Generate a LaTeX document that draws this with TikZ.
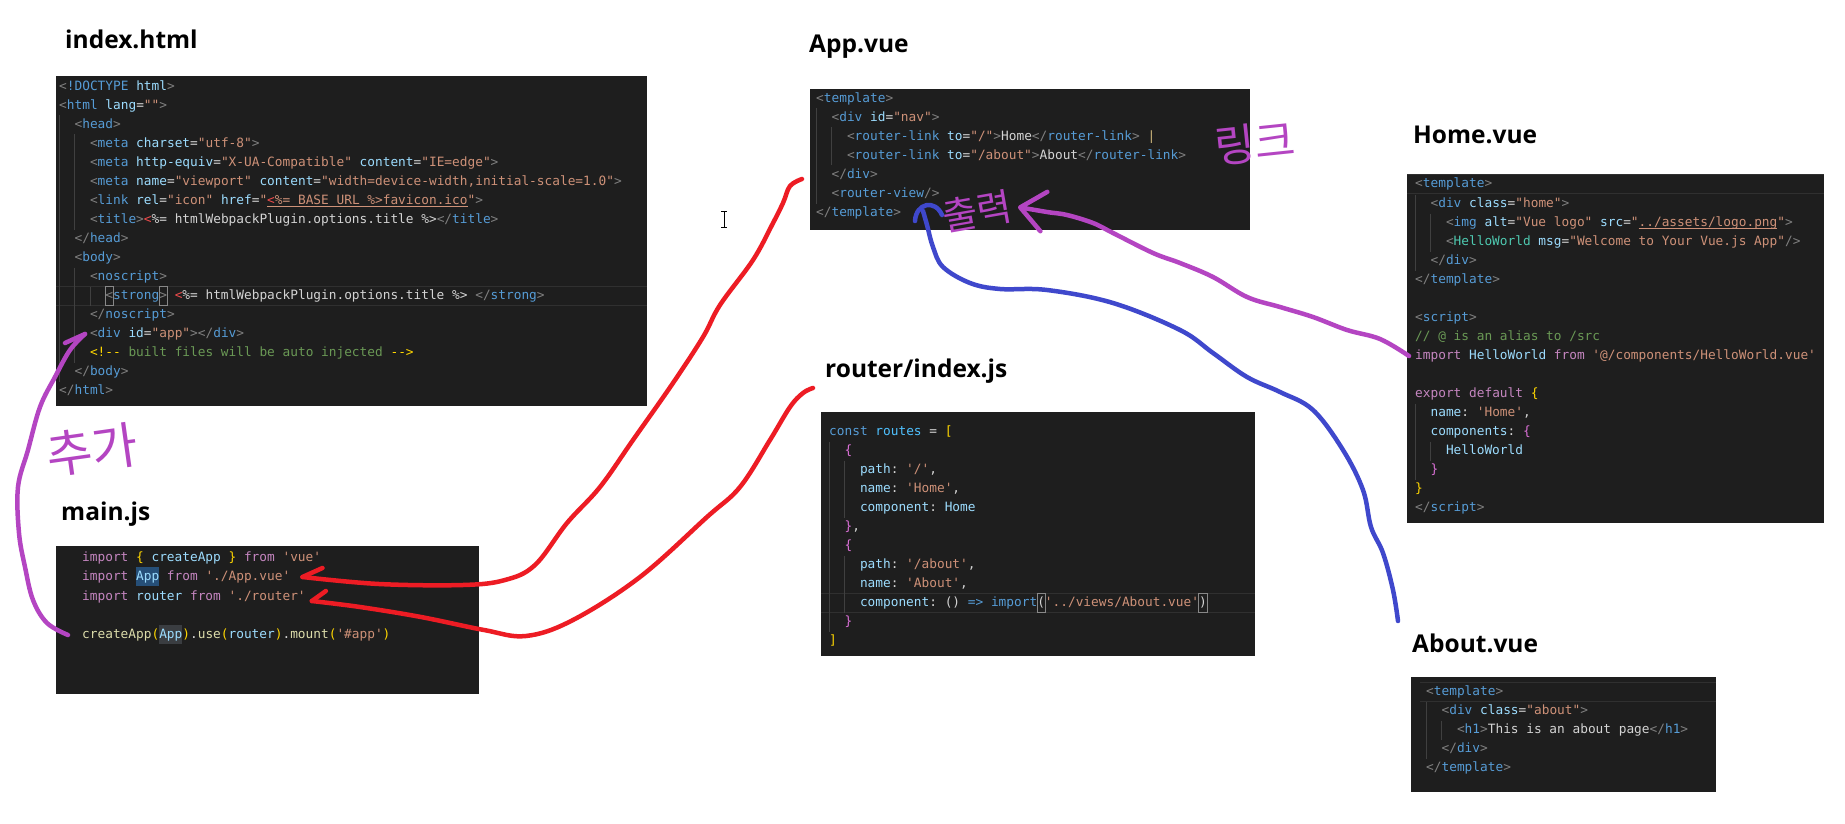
\documentclass[tikz,border=0pt]{standalone}
\usepackage{fontspec}
\setmainfont{Noto Sans}
\setmonofont{DejaVu Sans Mono}
\newfontfamily\headfont{Open Sans}
\newfontfamily\hanfont{Noto Sans CJK KR}
\usepackage{tikz}
\usetikzlibrary{calc,positioning,arrows.meta}

\definecolor{bgc}{HTML}{1E1E1E}
\definecolor{tagc}{HTML}{569CD6}
\definecolor{angc}{HTML}{808080}
\definecolor{attc}{HTML}{9CDCFE}
\definecolor{strc}{HTML}{CE9178}
\definecolor{txtc}{HTML}{D4D4D4}
\definecolor{cmtc}{HTML}{6A9955}
\definecolor{kwc}{HTML}{C586C0}
\definecolor{fnc}{HTML}{DCDCAA}
\definecolor{cmpc}{HTML}{4EC9B0}
\definecolor{goldc}{HTML}{FFD700}
\definecolor{orchc}{HTML}{DA70D6}
\definecolor{constc}{HTML}{4FC1FF}
\definecolor{errc}{HTML}{F14C4C}
\definecolor{pipec}{HTML}{CCB47A}
\definecolor{selc}{HTML}{264F78}
\definecolor{hlc}{HTML}{3A3D41}
\definecolor{matchc}{HTML}{888888}
\definecolor{guidec}{HTML}{404040}
\definecolor{curc}{HTML}{303030}
\definecolor{redpen}{HTML}{ED1C24}
\definecolor{bluepen}{HTML}{3F48CC}
\definecolor{purplepen}{HTML}{B445C2}

% code colouring
\newsavebox{\ulbox}
\newcommand{\ctgo}[1]{\textcolor{angc}{<}\textcolor{tagc}{#1}}
\newcommand{\ctgc}[1]{\textcolor{angc}{</}\textcolor{tagc}{#1}\textcolor{angc}{>}}
\newcommand{\ctge}{\textcolor{angc}{>}}
\newcommand{\ctgs}{\textcolor{angc}{/>}}
\newcommand{\catr}[1]{\textcolor{attc}{#1}=}
\newcommand{\cstr}[1]{\textcolor{strc}{#1}}
\newcommand{\ckw}[1]{\textcolor{kwc}{#1}}
\newcommand{\cvar}[1]{\textcolor{attc}{#1}}
\newcommand{\ccmt}[1]{\textcolor{cmtc}{#1}}
\newcommand{\cfn}[1]{\textcolor{fnc}{#1}}
\newcommand{\ccmp}[1]{\textcolor{cmpc}{#1}}
\newcommand{\cgold}[1]{\textcolor{goldc}{#1}}
\newcommand{\corch}[1]{\textcolor{orchc}{#1}}
\newcommand{\cblu}[1]{\textcolor{tagc}{#1}}
\newcommand{\cconst}[1]{\textcolor{constc}{#1}}
\newcommand{\cerr}[1]{\textcolor{errc}{#1}}
\newcommand{\csel}[2]{{\fboxsep=0pt\colorbox{#1}{\strut#2}}}
\newcommand{\cmatch}[1]{{\fboxsep=0pt\fboxrule=0.6pt\kern-0.6pt\fcolorbox{matchc}{bgc}{\strut#1}\kern-0.6pt}}
\newcommand{\culine}[1]{\sbox{\ulbox}{#1}\rlap{\textcolor{strc}{\rule[-2.5pt]{\wd\ulbox}{0.7pt}}}\usebox{\ulbox}}

\tikzset{
  codeline/.style={anchor=west,inner sep=0pt,text=txtc,text height=9.5pt,text depth=2.5pt,
    font=\ttfamily\fontsize{12.8}{19}\selectfont},
  filename/.style={anchor=base west,inner sep=0pt,font=\headfont\bfseries\fontsize{24.5}{30}\selectfont},
  panel/.style={fill=bgc},
  guide/.style={draw=guidec,line width=1pt},
  curline/.style={draw=curc,line width=1pt},
  pen/.style={line width=4.5pt,line cap=round,line join=round},
  hand/.style={text=purplepen,inner sep=0pt,font=\hanfont\fontsize{44}{44}\selectfont},
}

\begin{document}
\begin{tikzpicture}[x=1pt,y=-1pt]
% \draw[gray!30,step=50] (0,0) grid (1845,824); %help grid
\fill[white] (0,0) rectangle (1845,824);
\useasboundingbox (0,0) rectangle (1845,824);

%% index.html
\node[filename] (tindex) at (65,49) {index.html};
\fill[panel] (56,76) rectangle (647,406);
\draw[curline] (56,286.5) -- (647,286.5) (56,305.5) -- (647,305.5);
\draw[guide] (59.5,115.5) -- (59.5,381.5);
\draw[guide] (74.9,134.5) -- (74.9,229.5) (74.9,267.5) -- (74.9,362.5);
\draw[guide] (90.3,286.5) -- (90.3,305.5);
\node[codeline] (i1) at (59,87) {\ctgo{!DOCTYPE} \cvar{html}\ctge{}};
\node[codeline] (i2) at (59,106) {\ctgo{html} \catr{lang}\cstr{""}\ctge{}};
\node[codeline] (i3) at (74.4,125) {\ctgo{head}\ctge{}};
\node[codeline] (i4) at (89.8,144) {\ctgo{meta} \catr{charset}\cstr{"utf-8"}\ctge{}};
\node[codeline] (i5) at (89.8,163) {\ctgo{meta} \catr{http-equiv}\cstr{"X-UA-Compatible"} \catr{content}\cstr{"IE=edge"}\ctge{}};
\node[codeline] (i6) at (89.8,182) {\ctgo{meta} \catr{name}\cstr{"viewport"} \catr{content}\cstr{"width=device-width,initial-scale=1.0"}\ctge{}};
\node[codeline] (i7) at (89.8,201) {\ctgo{link} \catr{rel}\cstr{"icon"} \catr{href}\cstr{"}\culine{\cerr{<}\cstr{\%= BASE\_URL \%>favicon.ico}}\cstr{"}\ctge{}};
\node[codeline] (i8) at (89.8,220) {\ctgo{title}\ctge{}\cerr{<}\%= htmlWebpackPlugin.options.title \%>\ctgc{title}};
\node[codeline] (i9) at (74.4,239) {\ctgc{head}};
\node[codeline] (i10) at (74.4,258) {\ctgo{body}\ctge{}};
\node[codeline] (i11) at (89.8,277) {\ctgo{noscript}\ctge{}};
\node[codeline] (i12) at (105.2,296) {\cmatch{\textcolor{angc}{<}}\cblu{strong}\cmatch{\ctge} \cerr{<}\%= htmlWebpackPlugin.options.title \%> \ctgc{strong}};
\node[codeline] (i13) at (89.8,315) {\ctgc{noscript}};
\node[codeline] (i14) at (89.8,334) {\ctgo{div} \catr{id}\cstr{"app"}\ctge{}\ctgc{div}};
\node[codeline] (i15) at (89.8,353) {\cgold{<!--} \ccmt{built files will be auto injected} \cgold{-->}};
\node[codeline] (i16) at (74.4,372) {\ctgc{body}};
\node[codeline] (i17) at (59,391) {\ctgc{html}};

%% main.js
\node[filename] (tmain) at (61,520) {main.js};
\fill[panel] (56,546) rectangle (479,694);
\node[codeline] (m1) at (82,558) {\ckw{import} \cgold{\{} \cvar{createApp} \cgold{\}} \ckw{from} \cstr{'vue'}};
\node[codeline] (m2) at (82,577) {\ckw{import} \csel{selc}{\cvar{App}} \ckw{from} \cstr{'./App.vue'}};
\node[codeline] (m3) at (82,597) {\ckw{import} \cvar{router} \ckw{from} \cstr{'./router'}};
\node[codeline] (m4) at (82,635) {\cfn{createApp}\cgold{(}\csel{hlc}{\cvar{App}}\cgold{)}.\cfn{use}\cgold{(}\cvar{router}\cgold{)}.\cfn{mount}\cgold{(}\cstr{'\#app'}\cgold{)}};

%% App.vue
\node[filename] (tapp) at (809,53) {App.vue};
\fill[panel] (810,89) rectangle (1250,230);
\draw[guide] (816.5,108.5) -- (816.5,203.5);
\draw[guide] (831.9,127.5) -- (831.9,165.5);
\node[codeline] (a1) at (816,99) {\ctgo{template}\ctge{}};
\node[codeline] (a2) at (831.4,118) {\ctgo{div} \catr{id}\cstr{"nav"}\ctge{}};
\node[codeline] (a3) at (846.8,137) {\ctgo{router-link} \catr{to}\cstr{"/"}\ctge{}Home\ctgc{router-link} \textcolor{pipec}{|}};
\node[codeline] (a4) at (846.8,156) {\ctgo{router-link} \catr{to}\cstr{"/about"}\ctge{}About\ctgc{router-link}};
\node[codeline] (a5) at (831.4,175) {\ctgc{div}};
\node[codeline] (a6) at (831.4,194) {\ctgo{router-view}\ctgs{}};
\node[codeline] (a7) at (816,213) {\ctgc{template}};

%% router/index.js
\node[filename] (trouter) at (825,377) {router/index.js};
\fill[panel] (821,412) rectangle (1255,656);
\draw[curline] (821,593.5) -- (1255,593.5) (821,612.5) -- (1255,612.5);
\draw[guide] (829.5,441.5) -- (829.5,631.5);
\draw[guide] (844.9,460.5) -- (844.9,517.5) (844.9,555.5) -- (844.9,612.5);
\node[codeline] (r1) at (829,432) {\cblu{const} \cconst{routes} = \cgold{[}};
\node[codeline] (r2) at (844.4,451) {\corch{\{}};
\node[codeline] (r3) at (859.8,470) {\cvar{path}: \cstr{'/'},};
\node[codeline] (r4) at (859.8,489) {\cvar{name}: \cstr{'Home'},};
\node[codeline] (r5) at (859.8,508) {\cvar{component}: \cvar{Home}};
\node[codeline] (r6) at (844.4,527) {\corch{\}},};
\node[codeline] (r7) at (844.4,546) {\corch{\{}};
\node[codeline] (r8) at (859.8,565) {\cvar{path}: \cstr{'/about'},};
\node[codeline] (r9) at (859.8,584) {\cvar{name}: \cstr{'About'},};
\node[codeline] (r10) at (859.8,603) {\cvar{component}: () \cblu{=>} \cblu{import}\cmatch{(}\cstr{'../views/About.vue'}\cmatch{)}};
\node[codeline] (r11) at (844.4,622) {\corch{\}}};
\node[codeline] (r12) at (829,641) {\cgold{]}};

%% Home.vue
\node[filename] (thome) at (1413,144) {Home.vue};
\fill[panel] (1407,174) rectangle (1824,523);
\draw[curline] (1407,174.5) -- (1824,174.5) (1407,193.5) -- (1824,193.5);
\draw[guide] (1415.5,194.5) -- (1415.5,270.5) (1415.5,403.5) -- (1415.5,479.5);
\draw[guide] (1430.9,213.5) -- (1430.9,251.5) (1430.9,441.5) -- (1430.9,460.5);
\node[codeline] (h1) at (1415,184) {\ctgo{template}\ctge{}};
\node[codeline] (h2) at (1430.4,204) {\ctgo{div} \catr{class}\cstr{"home"}\ctge{}};
\node[codeline] (h3) at (1445.8,223) {\ctgo{img} \catr{alt}\cstr{"Vue logo"} \catr{src}\cstr{"}\culine{\cstr{../assets/logo.png}}\cstr{"}\ctge{}};
\node[codeline] (h4) at (1445.8,242) {\textcolor{angc}{<}\ccmp{HelloWorld} \catr{msg}\cstr{"Welcome to Your Vue.js App"}\ctgs{}};
\node[codeline] (h5) at (1430.4,261) {\ctgc{div}};
\node[codeline] (h6) at (1415,280) {\ctgc{template}};
\node[codeline] (h8) at (1415,318) {\ctgo{script}\ctge{}};
\node[codeline] (h9) at (1415,337) {\ccmt{// @ is an alias to /src}};
\node[codeline] (h10) at (1415,356) {\ckw{import} \cvar{HelloWorld} \ckw{from} \cstr{'@/components/HelloWorld.vue'}};
\node[codeline] (h12) at (1415,394) {\ckw{export} \ckw{default} \cgold{\{}};
\node[codeline] (h13) at (1430.4,413) {\cvar{name}: \cstr{'Home'},};
\node[codeline] (h14) at (1430.4,432) {\cvar{components}: \corch{\{}};
\node[codeline] (h15) at (1445.8,451) {\cvar{HelloWorld}};
\node[codeline] (h16) at (1430.4,470) {\corch{\}}};
\node[codeline] (h17) at (1415,489) {\cgold{\}}};
\node[codeline] (h18) at (1415,508) {\ctgc{script}};

%% About.vue
\node[filename] (tabout) at (1412,652) {About.vue};
\fill[panel] (1411,677) rectangle (1716,792);
\draw[curline] (1420,682.5) -- (1716,682.5) (1420,701.5) -- (1716,701.5);
\draw[guide] (1426.5,701.5) -- (1426.5,758.5);
\draw[guide] (1441.9,720.5) -- (1441.9,739.5);
\node[codeline] (b1) at (1426,692) {\ctgo{template}\ctge{}};
\node[codeline] (b2) at (1441.4,711) {\ctgo{div} \catr{class}\cstr{"about"}\ctge{}};
\node[codeline] (b3) at (1456.8,730) {\ctgo{h1}\ctge{}This is an about page\ctgc{h1}};
\node[codeline] (b4) at (1441.4,749) {\ctgc{div}};
\node[codeline] (b5) at (1426,768) {\ctgc{template}};

%% mouse cursor
\draw[line width=1pt] (724,211) -- (724,227) (721,211) -- (727,211) (721,227) -- (727,227);

%% handwriting
\node[hand,rotate=8,font=\hanfont\fontsize{50}{50}\selectfont] (add) at (92,450) {추가};
\node[hand,rotate=6] (link) at (1255,143) {링크};
\node[hand,rotate=10,font=\hanfont\fontsize{38}{38}\selectfont] (out) at (977,211) {출력};

\coordinate (addtip) at (85,334);
\coordinate (appin) at (802,179);
\coordinate (routerin) at (813,388);
\coordinate (abouttail) at (1398,621);
\coordinate (viewtip) at (923,211);
\coordinate (outtip) at (1018,207);

% red: imports into main.js
\draw[pen,redpen] plot[smooth,tension=0.6] coordinates {([xshift=12pt]m2.east) (379,584) (463,585) (505,580) (535,565) (567,523) (600,487) (633,440) (673,383) (703,337) (720,305) (753,260) (772,225) (783,203) (790,186) (appin)};
\draw[pen,redpen] ([xshift=12pt]m2.east) -- ++(20,-9);
\draw[pen,redpen] plot[smooth,tension=0.6] coordinates {([xshift=6pt,yshift=-4pt]m3.east) (360,607) (421,617) (484,630) (526,636) (573,620) (640,577) (707,517) (740,487) (770,440) (790,407) (803,393) (routerin)};
\draw[pen,redpen] ([xshift=6pt,yshift=-4pt]m3.east) -- ++(14,-10);

% purple: mount into index.html
\draw[pen,purplepen] plot[smooth,tension=0.6] coordinates {([xshift=-14pt]m4.west) (47,623) (33,600) (25,567) (19,533) (18,487) (28,450) (40,407) (55,377) (70,350) (addtip)};
\draw[pen,purplepen] (addtip) -- ++(-20,9);

% purple: HelloWorld into router-view
\draw[pen,purplepen,-{Straight Barb[length=24pt,width=40pt,round]}] plot[smooth,tension=0.6] coordinates {([xshift=-6pt]h10.west) (1380,339) (1347,330) (1313,317) (1280,307) (1247,297) (1213,277) (1180,263) (1153,253) (1113,233) (1093,223) (1067,215) (1047,212) (outtip)};

% blue: About.vue into router-view
\draw[pen,bluepen] plot[smooth,tension=0.6] coordinates {(abouttail) (1393,590) (1383,553) (1371,527) (1363,490) (1343,450) (1313,410) (1280,392) (1247,377) (1213,353) (1180,330) (1113,303) (1047,290) (1000,289) (970,283) (943,267) (933,247) (927,225) (viewtip)};
\draw[pen,bluepen] (915,221) .. controls (916,203) and (935,199) .. (942,215);
\end{tikzpicture}
\end{document}
